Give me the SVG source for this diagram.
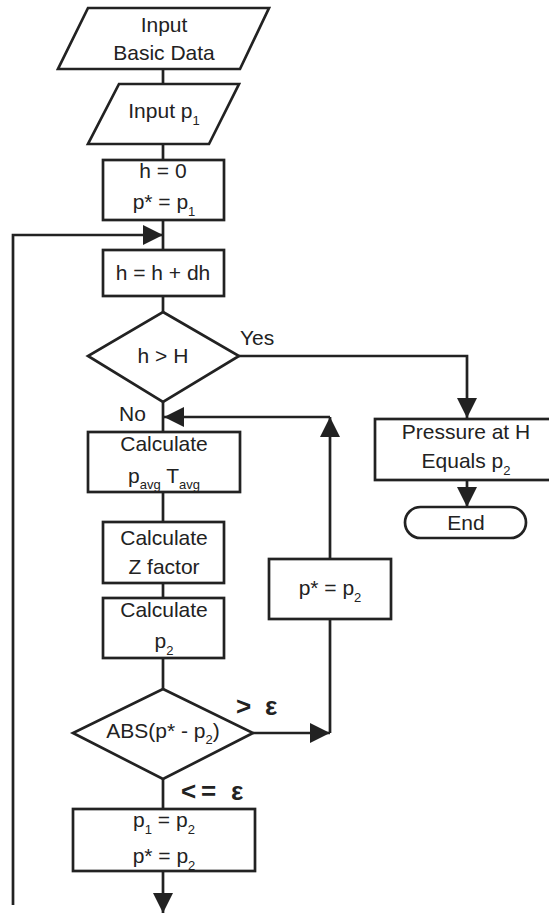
<svg xmlns="http://www.w3.org/2000/svg" width="549" height="913" viewBox="0 0 549 913">
<style>
.s{fill:#fff;stroke:#222;stroke-width:2.7}
.c{fill:none;stroke:#222;stroke-width:2.7}
text{font-family:"Liberation Sans",Arial,sans-serif;font-size:21px;fill:#222}
.m{text-anchor:middle}
.sub{font-size:13px}
.b{font-weight:bold;font-size:26px}
</style>
<defs>
<marker id="ah" viewBox="0 0 20 20" markerWidth="20" markerHeight="20" markerUnits="userSpaceOnUse" refX="20" refY="10" orient="auto">
<path d="M0,0 L20,10 L0,20 z" fill="#222"/>
</marker>
</defs>
<rect width="549" height="913" fill="#fff"/>
<g id="connectors">
<path class="c" d="M163,69 V84"/>
<path class="c" d="M163,144 V160"/>
<path class="c" d="M163,220 V250"/>
<path class="c" d="M13,905 V235 H163" marker-end="url(#ah)"/>
<path class="c" d="M163,296 V312"/>
<path class="c" d="M239,356 H467 V418" marker-end="url(#ah)"/>
<path class="c" d="M163,402 V432"/>
<path class="c" d="M467,480 V507" marker-end="url(#ah)"/>
<path class="c" d="M163,492 V522"/>
<path class="c" d="M163,583 V598"/>
<path class="c" d="M163,658 V689"/>
<path class="c" d="M253,733 H330" marker-end="url(#ah)"/>
<path class="c" d="M330,733 V619"/>
<path class="c" d="M330,559 V417" marker-end="url(#ah)"/>
<path class="c" d="M330,417 H164" marker-end="url(#ah)"/>
<path class="c" d="M163,779 V809"/>
<path class="c" d="M163,871 V913" marker-end="url(#ah)"/>
</g>
<g id="input-basic">
<polygon class="s" points="88,8 269,8 240,69 58,69"/>
<text class="m" x="164" y="32">Input</text>
<text class="m" x="164" y="60">Basic Data</text>
</g>
<g id="input-p1">
<polygon class="s" points="119,84 239,84 209,144 88,144"/>
<text class="m" x="164" y="118">Input p<tspan class="sub" dy="7">1</tspan></text>
</g>
<g id="init">
<rect class="s" x="103" y="160" width="121" height="60"/>
<text class="m" x="163" y="178">h = 0</text>
<text class="m" x="164" y="209">p* = p<tspan class="sub" dy="7">1</tspan></text>
</g>
<g id="increment">
<rect class="s" x="103" y="250" width="121" height="46"/>
<text class="m" x="163" y="280">h = h + dh</text>
</g>
<g id="check-h">
<polygon class="s" points="163,312 239,356 163,402 88,356"/>
<text class="m" x="163" y="363">h &gt; H</text>
<text x="240" y="345">Yes</text>
<text x="119" y="421">No</text>
</g>
<g id="calc-avg">
<rect class="s" x="88" y="432" width="152" height="60"/>
<text class="m" x="164" y="451">Calculate</text>
<text class="m" x="164" y="483">p<tspan class="sub" dy="6">avg</tspan><tspan dy="-6"> T</tspan><tspan class="sub" dy="6">avg</tspan></text>
</g>
<g id="calc-z">
<rect class="s" x="103" y="522" width="121" height="61"/>
<text class="m" x="164" y="545">Calculate</text>
<text class="m" x="164" y="574">Z factor</text>
</g>
<g id="calc-p2">
<rect class="s" x="103" y="598" width="121" height="60"/>
<text class="m" x="164" y="617">Calculate</text>
<text class="m" x="164" y="648">p<tspan class="sub" dy="7">2</tspan></text>
</g>
<g id="update-pstar">
<rect class="s" x="269" y="559" width="122" height="60"/>
<text class="m" x="330" y="595">p* = p<tspan class="sub" dy="7">2</tspan></text>
</g>
<g id="check-abs">
<polygon class="s" points="163,689 253,733 163,779 73,733"/>
<text class="m" x="163" y="738">ABS(p* - p<tspan class="sub" dy="6">2</tspan><tspan dy="-6">)</tspan></text>
<text class="b" y="715"><tspan x="236">&gt;</tspan><tspan x="265">ε</tspan></text>
<text class="b" y="800"><tspan x="181">&lt;</tspan><tspan x="201">=</tspan><tspan x="231">ε</tspan></text>
</g>
<g id="assign">
<rect class="s" x="73" y="809" width="182" height="62"/>
<text class="m" x="164" y="827">p<tspan class="sub" dy="7">1</tspan><tspan dy="-7"> = p</tspan><tspan class="sub" dy="7">2</tspan></text>
<text class="m" x="164" y="863">p* = p<tspan class="sub" dy="7">2</tspan></text>
</g>
<g id="result">
<rect class="s" x="375" y="419" width="178" height="61"/>
<text class="m" x="466" y="439">Pressure at H</text>
<text class="m" x="466" y="468">Equals p<tspan class="sub" dy="7">2</tspan></text>
</g>
<g id="end">
<rect class="s" x="405" y="507" width="121" height="31" rx="15.5"/>
<text class="m" x="466" y="530">End</text>
</g>
</svg>
